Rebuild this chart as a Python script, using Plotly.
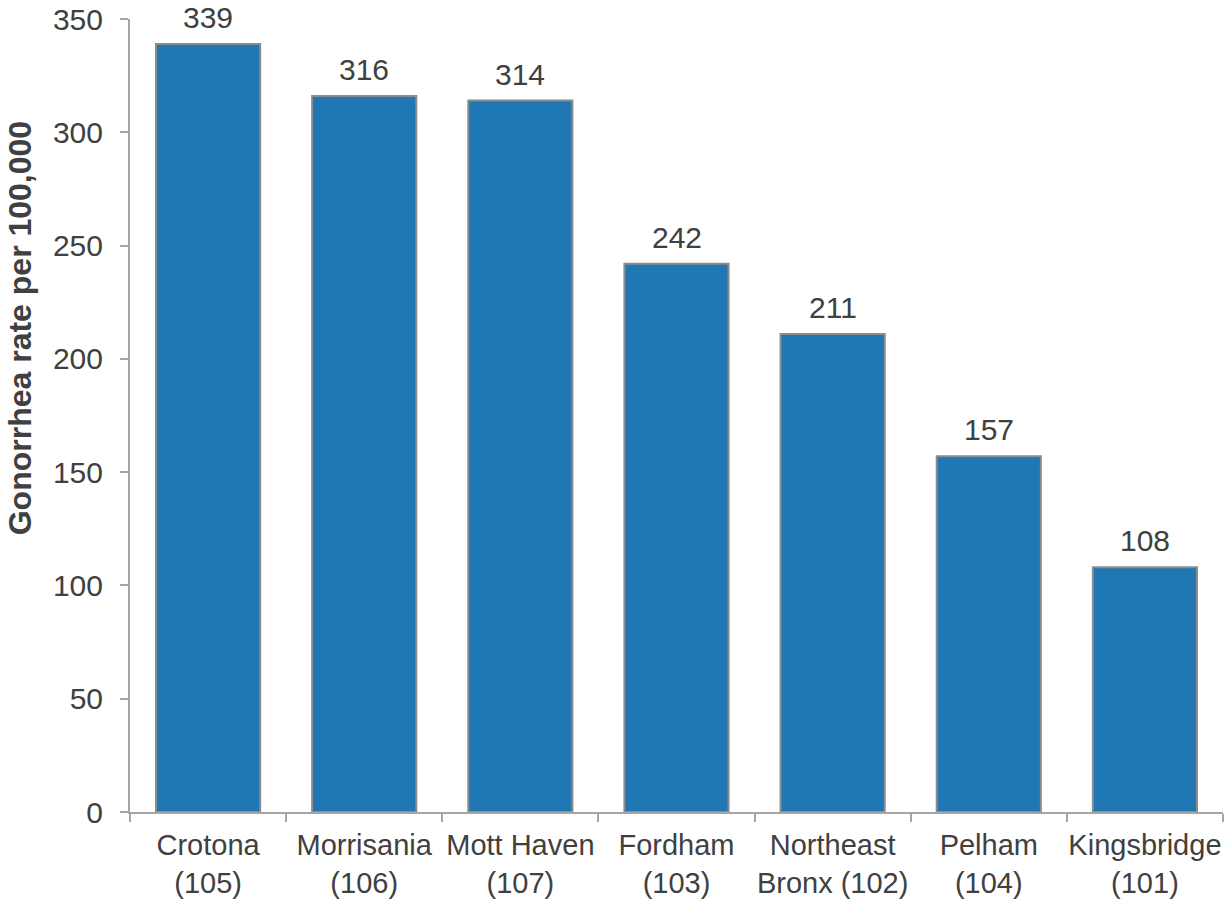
import plotly.graph_objects as go

categories = ["Crotona<br>(105)", "Morrisania<br>(106)", "Mott Haven<br>(107)", "Fordham<br>(103)",
              "Northeast<br>Bronx (102)", "Pelham<br>(104)", "Kingsbridge<br>(101)"]
rates = [339, 316, 314, 242, 211, 157, 108]
y_ticks = [0, 50, 100, 150, 200, 250, 300, 350]

TEXT = "#404040"
FONT = "Liberation Sans, Arial, sans-serif"

fig = go.Figure()
fig.add_trace(go.Bar(
    x=categories, y=rates,
    marker=dict(color="#1f77b4", line=dict(color="#8c8c8c", width=2)),
    showlegend=False,
))

for c, v in zip(categories, rates):
    fig.add_annotation(x=c, y=v, text=str(v), showarrow=False, yanchor="bottom",
                       yshift=8, font=dict(size=30, color=TEXT, family=FONT))

fig.add_annotation(xref="paper", yref="paper", x=(20 - 130) / 1093, y=0.61,
                   xanchor="center", yanchor="middle",
                   text="<b>Gonorrhea rate per 100,000</b>", textangle=-90,
                   showarrow=False, font=dict(size=32, color=TEXT, family=FONT))

fig.update_layout(
    width=1224, height=899,
    margin=dict(l=130, r=1, t=19, b=87),
    plot_bgcolor="white", paper_bgcolor="white",
    bargap=0.333,
    font=dict(family=FONT, size=30, color=TEXT),
    xaxis=dict(showline=True, linecolor="#a6a6a6", linewidth=2, ticks="outside",
               tickson="boundaries", ticklen=8, tickcolor="#a6a6a6", tickwidth=2,
               showgrid=False, tickfont=dict(size=29, color=TEXT), tickangle=0,
               ticklabelstandoff=6),
    yaxis=dict(range=[0, 350], tickvals=y_ticks, showline=True, linecolor="#a6a6a6",
               linewidth=2, ticks="outside", ticklen=8, tickcolor="#a6a6a6", tickwidth=2,
               showgrid=False, zeroline=False, tickfont=dict(size=30, color=TEXT),
               ticklabelstandoff=11),
)

fig.write_html("out.html")
